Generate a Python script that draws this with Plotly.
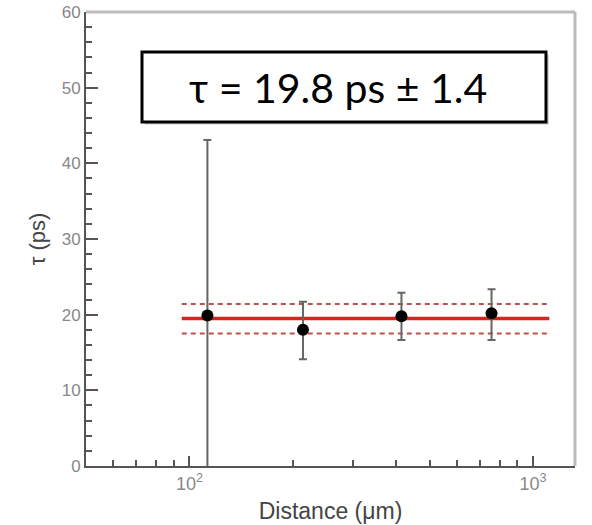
import plotly.graph_objects as go

# Data
distance_um = [112.8, 214, 414, 757]
tau_ps = [19.9, 18.0, 19.8, 20.2]
err_plus = [23.2, 3.7, 3.1, 3.15]
err_minus = [23.2, 3.9, 3.15, 3.55]

fit_x = [95, 1115]
fit_center = [19.5, 19.5]
fit_upper = [21.4, 21.4]
fit_lower = [17.5, 17.5]

x_tickvals = [100, 1000]
x_ticktext = ["10<sup>2</sup>", "10<sup>3</sup>"]
x_minor = [60, 70, 80, 90, 200, 300, 400, 500, 600, 700, 800, 900]

label_text = "τ = 19.8 ps ± 1.4"

fig = go.Figure()

fig.add_trace(go.Scatter(x=fit_x, y=fit_upper, mode="lines",
                         line=dict(color="#c0504a", width=2, dash="5px,4px"),
                         showlegend=False, hoverinfo="skip"))
fig.add_trace(go.Scatter(x=fit_x, y=fit_lower, mode="lines",
                         line=dict(color="#c0504a", width=2, dash="5px,4px"),
                         showlegend=False, hoverinfo="skip"))
fig.add_trace(go.Scatter(x=fit_x, y=fit_center, mode="lines",
                         line=dict(color="#d0281c", width=3.5),
                         showlegend=False, hoverinfo="skip"))

fig.add_trace(go.Scatter(
    x=distance_um, y=tau_ps, mode="markers",
    marker=dict(color="black", size=12, symbol="circle"),
    error_y=dict(type="data", array=err_plus, arrayminus=err_minus,
                 color="#666666", thickness=2, width=4),
    showlegend=False))

fig.update_xaxes(
    type="log", range=[1.699, 3.122], automargin=False,
    tickmode="array", tickvals=x_tickvals, ticktext=x_ticktext,
    ticks="inside", ticklen=10, tickwidth=2, tickcolor="#555555",
    minor=dict(tickmode="array", tickvals=x_minor, ticks="inside",
               ticklen=6, tickwidth=2, tickcolor="#555555"),
    showline=True, linecolor="#555555", linewidth=2,
    showgrid=False, zeroline=False,
    tickfont=dict(family="Liberation Sans", size=18, color="#888888"),
    title=dict(text="Distance (μm)", standoff=10,
               font=dict(family="Liberation Sans", size=23, color="#444444")),
)
fig.update_yaxes(
    range=[0, 60], dtick=10, tick0=0, automargin=False,
    ticks="inside", ticklen=12, tickwidth=2, tickcolor="#555555",
    minor=dict(dtick=2, ticks="inside", ticklen=6, tickwidth=2, tickcolor="#555555"),
    showline=True, linecolor="#555555", linewidth=2,
    showgrid=False, zeroline=False,
    tickfont=dict(family="Liberation Sans", size=17, color="#888888"),
    title=dict(text="τ (ps)", standoff=10,
               font=dict(family="Liberation Sans", size=22, color="#444444")),
)

# light grey top/right frame
fig.add_shape(type="line", xref="paper", yref="paper", x0=0, x1=1, y0=1, y1=1,
              line=dict(color="#bbbbbb", width=3))
fig.add_shape(type="line", xref="paper", yref="paper", x0=1, x1=1, y0=0, y1=1,
              line=dict(color="#bbbbbb", width=3))

# label box with soft shadow
fig.add_shape(type="rect", xref="paper", yref="paper",
              x0=0.1205, x1=0.9467, y0=0.7517, y1=0.9059,
              line=dict(width=0), fillcolor="rgba(0,0,0,0.15)", layer="above")
fig.add_shape(type="rect", xref="paper", yref="paper",
              x0=0.1145, x1=0.9407, y0=0.7577, y1=0.9119,
              line=dict(color="black", width=3), fillcolor="white", layer="above")
fig.add_annotation(xref="paper", yref="paper", x=0.515, y=0.8348,
                   text=label_text, showarrow=False,
                   xanchor="center", yanchor="middle",
                   font=dict(family="Lato", size=41, color="black"))

fig.update_layout(
    width=592, height=525,
    margin=dict(l=86, r=17, t=12, b=59),
    paper_bgcolor="white", plot_bgcolor="white",
)

fig.write_html("out.html")
